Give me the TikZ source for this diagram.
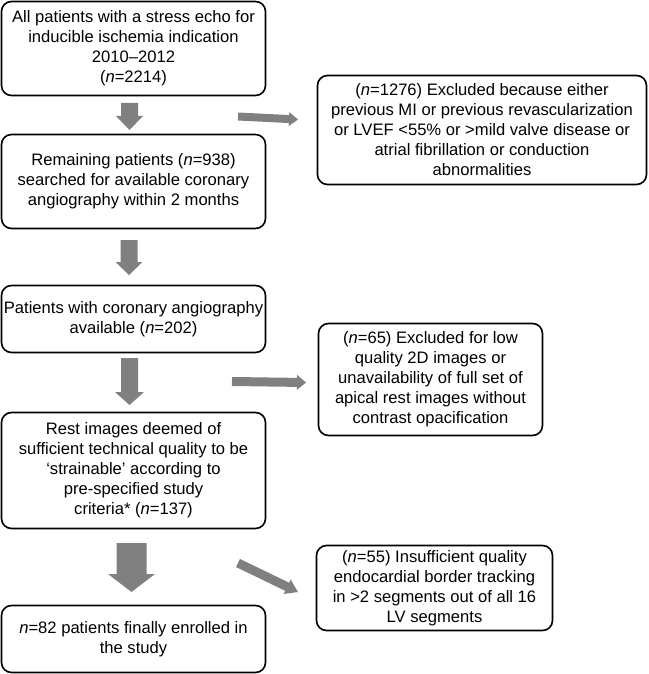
\documentclass[tikz,border=0pt]{standalone}
\usepackage{fontspec}
\setmainfont{Liberation Sans}
\usetikzlibrary{calc}
\definecolor{arrowgray}{RGB}{128,128,128}
\newcommand\blockarrow[5]{%
  \coordinate (hb) at ($(#2)!#5!(#1)$);
  \fill[arrowgray] ($(#1)!#3!90:(#2)$) -- ($(hb)!#3!90:(#2)$) -- ($(hb)!#4!90:(#2)$) -- (#2)
    -- ($(hb)!#4!-90:(#2)$) -- ($(hb)!#3!-90:(#2)$) -- ($(#1)!#3!-90:(#2)$) -- cycle;}
\tikzset{
  box/.style={draw, line width=1.6pt, rounded corners=10pt, align=center,
    inner sep=0pt, fill=white, font=\fontsize{16.6}{20}\selectfont},
}
\begin{document}
\begin{tikzpicture}[x=1pt,y=-1pt]
\useasboundingbox (0,0) rectangle (648,674);
\node[box, minimum width=264, minimum height=94] (b1) at (133.5,48.5)
  {All patients with a stress echo for\\inducible ischemia indication\\2010–2012\\(\textit{n}=2214)};
\node[box, minimum width=264, minimum height=94] (b2) at (133.5,181.5)
  {Remaining patients (\textit{n}=938)\\searched for available coronary\\angiography within 2 months};
\node[box, minimum width=329, minimum height=109] (b3) at (482,130)
  {(\textit{n}=1276) Excluded because either\\previous MI or previous revascularization\\or LVEF <55\% or >mild valve disease or\\atrial fibrillation or conduction\\abnormalities};
\node[box, minimum width=264, minimum height=67] (b4) at (133.5,319)
  {Patients with coronary angiography\\available (\textit{n}=202)};
\node[box, minimum width=224, minimum height=112] (b5) at (430.5,379.5)
  {(\textit{n}=65) Excluded for low\\quality 2D images or\\unavailability of full set of\\apical rest images without\\contrast opacification};
\node[box, minimum width=264, minimum height=116] (b6) at (133.5,470.5)
  {Rest images deemed of\\sufficient technical quality to be\\‘strainable’ according to\\pre-specified study\\criteria* (\textit{n}=137)};
\node[box, minimum width=264, minimum height=67] (b7) at (133.5,639)
  {\textit{n}=82 patients finally enrolled in\\the study};
\node[box, minimum width=236, minimum height=85] (b8) at (434.5,588)
  {(\textit{n}=55) Insufficient quality\\endocardial border tracking\\in >2 segments out of all 16\\LV segments};

\coordinate (a1s) at (129.5,103);   \coordinate (a1e) at (129.5,130);
\coordinate (a2s) at (129,240);     \coordinate (a2e) at (129,275);
\coordinate (a3s) at (129.5,358);   \coordinate (a3e) at (129.5,405);
\coordinate (a4s) at (131.5,543);   \coordinate (a4e) at (131.5,592);
\coordinate (r1s) at (238,116.5);   \coordinate (r1e) at (298,119.5);
\coordinate (r2s) at (232,381.5);   \coordinate (r2e) at (306,382.5);
\coordinate (r3s) at (238,563);     \coordinate (r3e) at (298,592);

\blockarrow{a1s}{a1e}{8.5pt}{13.5pt}{14pt}
\blockarrow{a2s}{a2e}{8.5pt}{13.5pt}{13pt}
\blockarrow{a3s}{a3e}{8.5pt}{14.5pt}{13pt}
\blockarrow{a4s}{a4e}{15pt}{23.5pt}{18pt}
\blockarrow{r1s}{r1e}{4pt}{7pt}{9pt}
\blockarrow{r2s}{r2e}{4.5pt}{7.5pt}{9pt}
\blockarrow{r3s}{r3e}{4.5pt}{8pt}{12pt}
\end{tikzpicture}
\end{document}
